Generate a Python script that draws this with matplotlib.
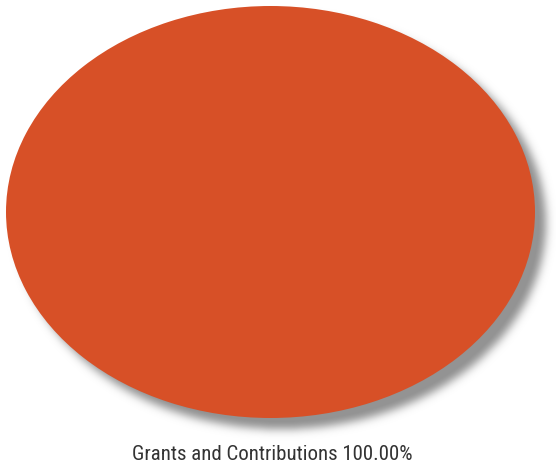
import numpy as np
import matplotlib
matplotlib.use("Agg")
import matplotlib.pyplot as plt
from matplotlib import font_manager

categories = ["Grants and Contributions"]
values = [100.0]
colors = ["#D75027"]

W, H = 556, 470
fig = plt.figure(figsize=(W / 100, H / 100), dpi=100)
ax = fig.add_axes([0, 0, 1, 1])

cx, cy, rx, ry = 270.5, 212.0, 264.5, 206.0
x0, x1 = (0 - cx) / rx, (W - cx) / rx
y0, y1 = (cy - H) / ry, cy / ry

# blurred drop shadow
yy, xx = np.mgrid[0:H, 0:W] + 0.5
dx, dy = 11.0, 11.0
mask = (((xx - cx - dx) / rx) ** 2 + ((yy - cy - dy) / ry) ** 2 <= 1).astype(float)
sigma = 4.5
k = np.arange(-15, 16)
g = np.exp(-k ** 2 / (2 * sigma ** 2)); g /= g.sum()
mask = np.apply_along_axis(lambda r: np.convolve(r, g, mode="same"), 1, mask)
mask = np.apply_along_axis(lambda c: np.convolve(c, g, mode="same"), 0, mask)
rgba = np.zeros((H, W, 4))
rgba[..., :3] = 0.58
rgba[..., 3] = np.clip(mask * 1.05, 0, 1)
ax.imshow(rgba, extent=(x0, x1, y0, y1), origin="upper", zorder=0, interpolation="bilinear")

ax.pie(values, colors=colors, radius=1.0, center=(0, 0), startangle=90,
       wedgeprops=dict(linewidth=0), frame=True)
ax.set_aspect("auto")
ax.set_xlim(x0, x1)
ax.set_ylim(y0, y1)
ax.axis("off")

names = {f.name for f in font_manager.fontManager.ttflist}
fam = [n for n in ["Liberation Sans Narrow", "Roboto Condensed", "Open Sans Condensed"] if n in names]
size = 15 if fam else 13.2
fam = fam + ["Liberation Sans", "DejaVu Sans"]
label = f"{categories[0]} {values[0]:.2f}%"
fig.text(272 / W, 1 - 455 / H, label, ha="center", va="center",
         fontsize=size, color="#333333", family=fam)

fig.savefig("out.png", dpi=100)
